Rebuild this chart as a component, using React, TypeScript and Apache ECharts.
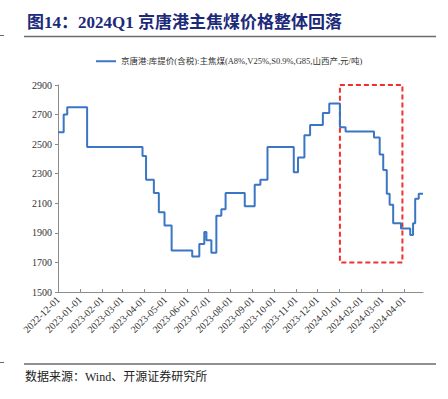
import React, { useEffect, useRef } from "react";
import * as echarts from "echarts";

const seriesName = "京唐港:库提价(含税):主焦煤(A8%,V25%,S0.9%,G85,山西产,元/吨)";
const titleText = "图14：2024Q1 京唐港主焦煤价格整体回落";
const sourceText = "数据来源：Wind、开源证券研究所";

// Dates where the price level changes (step series) and the level from that date on
const changeDates = [
  "2022-12-01", "2022-12-09", "2022-12-14", "2023-01-11", "2023-03-30", "2023-04-04",
  "2023-04-15", "2023-04-22", "2023-04-30", "2023-05-10", "2023-06-08", "2023-06-18",
  "2023-06-25", "2023-06-28", "2023-07-05", "2023-07-12", "2023-07-19", "2023-07-25",
  "2023-08-21", "2023-09-04", "2023-09-12", "2023-09-22", "2023-10-29", "2023-11-04",
  "2023-11-13", "2023-11-21", "2023-12-09", "2023-12-18", "2024-01-02", "2024-01-10",
  "2024-02-19", "2024-02-27", "2024-03-03", "2024-03-08", "2024-03-12", "2024-03-17",
  "2024-03-28", "2024-04-10", "2024-04-14", "2024-04-17", "2024-04-22", "2024-04-28",
];
const priceLevels = [
  2580, 2700, 2750, 2480, 2420, 2260,
  2170, 2040, 1950, 1780, 1740, 1825,
  1905, 1850, 1765, 2015, 2060, 2170,
  2080, 2225, 2260, 2480, 2310, 2410,
  2560, 2630, 2710, 2775, 2615, 2585,
  2545, 2430, 2325, 2165, 2090, 1965,
  1930, 1885, 1965, 2130, 2165, 2165,
];

const axisStart = "2022-12-01";
const axisEnd = "2024-04-28";
const yTicks = [1500, 1700, 1900, 2100, 2300, 2500, 2700, 2900];
const highlightBox = [["2024-01-02", 2900], ["2024-03-30", 1700]];

function buildCategories(start: string, end: string): string[] {
  const out: string[] = [];
  const d = new Date(start + "T00:00:00Z");
  const e = new Date(end + "T00:00:00Z");
  while (d.getTime() <= e.getTime()) {
    out.push(d.toISOString().slice(0, 10));
    d.setUTCDate(d.getUTCDate() + 1);
  }
  return out;
}

const SERIF = "'Liberation Serif', 'Times New Roman', 'Noto Sans CJK SC', serif";

export default function App() {
  const ref = useRef<HTMLDivElement>(null);
  useEffect(() => {
    if (!ref.current) return;
    const chart = echarts.init(ref.current, undefined, { renderer: "svg" });
    const categories = buildCategories(axisStart, axisEnd);
    const isMonthStart = (_i: number, v: string) => v.slice(8) === "01";
    chart.setOption({
      animation: false,
      backgroundColor: "#ffffff",
      grid: { left: 58, right: 25, top: 85, bottom: 107, containLabel: false },
      legend: {
        left: 91,
        top: 52,
        icon: "rect",
        itemWidth: 20,
        itemHeight: 2,
        itemGap: 3,
        textStyle: { fontFamily: SERIF, fontSize: 8.5, color: "#333" },
        data: [seriesName],
      },
      xAxis: {
        type: "category",
        data: categories,
        boundaryGap: false,
        axisLine: { lineStyle: { color: "#8c8c8c", width: 1 } },
        axisTick: { inside: true, length: 3, interval: isMonthStart, lineStyle: { color: "#8c8c8c" } },
        axisLabel: {
          interval: isMonthStart,
          rotate: 45,
          fontFamily: SERIF,
          fontSize: 10,
          color: "#333",
          margin: 6,
        },
        splitLine: { show: false },
      },
      yAxis: {
        type: "value",
        min: yTicks[0],
        max: yTicks[yTicks.length - 1],
        interval: 200,
        axisLine: { show: true, lineStyle: { color: "#8c8c8c", width: 1 } },
        axisTick: { show: true, length: 3, lineStyle: { color: "#8c8c8c" } },
        axisLabel: {
          fontFamily: SERIF,
          fontSize: 10,
          color: "#333",
          margin: 6,
          formatter: (v: number) => String(v),
        },
        splitLine: { show: false },
      },
      series: [
        {
          name: seriesName,
          type: "line",
          step: "end",
          showSymbol: false,
          symbol: "none",
          lineStyle: { color: "#3a76c4", width: 2 },
          itemStyle: { color: "#3a76c4" },
          data: changeDates.map((d, i) => [d, priceLevels[i]]),
          markArea: {
            silent: true,
            itemStyle: {
              color: "rgba(0,0,0,0)",
              borderColor: "#f03030",
              borderWidth: 2,
              borderType: [5, 3],
            },
            data: [[
              { xAxis: highlightBox[0][0], yAxis: highlightBox[0][1] },
              { xAxis: highlightBox[1][0], yAxis: highlightBox[1][1] },
            ]],
          },
        },
      ],
      graphic: [
        {
          type: "text",
          left: 27,
          top: 14,
          style: {
            text: titleText,
            fontFamily: SERIF,
            fontSize: 17,
            fontWeight: "bold",
            fill: "#1c2a7a",
          },
        },
        { type: "line", shape: { x1: 24, y1: 36.5, x2: 436, y2: 36.5 }, style: { stroke: "#6b6b6b", lineWidth: 1.5 } },
        { type: "line", shape: { x1: 0, y1: 35.5, x2: 4, y2: 35.5 }, style: { stroke: "#6b6b6b", lineWidth: 1 } },
        { type: "line", shape: { x1: 24, y1: 364, x2: 436, y2: 364 }, style: { stroke: "#6b6b6b", lineWidth: 1.5 } },
        { type: "line", shape: { x1: 0, y1: 362.5, x2: 4, y2: 362.5 }, style: { stroke: "#6b6b6b", lineWidth: 1 } },
        {
          type: "text",
          left: 25,
          top: 371,
          style: { text: sourceText, fontFamily: SERIF, fontSize: 12, fill: "#222" },
        },
      ],
    });
    return () => chart.dispose();
  }, []);
  return (
    <div
      ref={ref}
      style={{ position: "fixed", left: 0, top: 0, width: 448, height: 399, background: "#fff" }}
    />
  );
}
